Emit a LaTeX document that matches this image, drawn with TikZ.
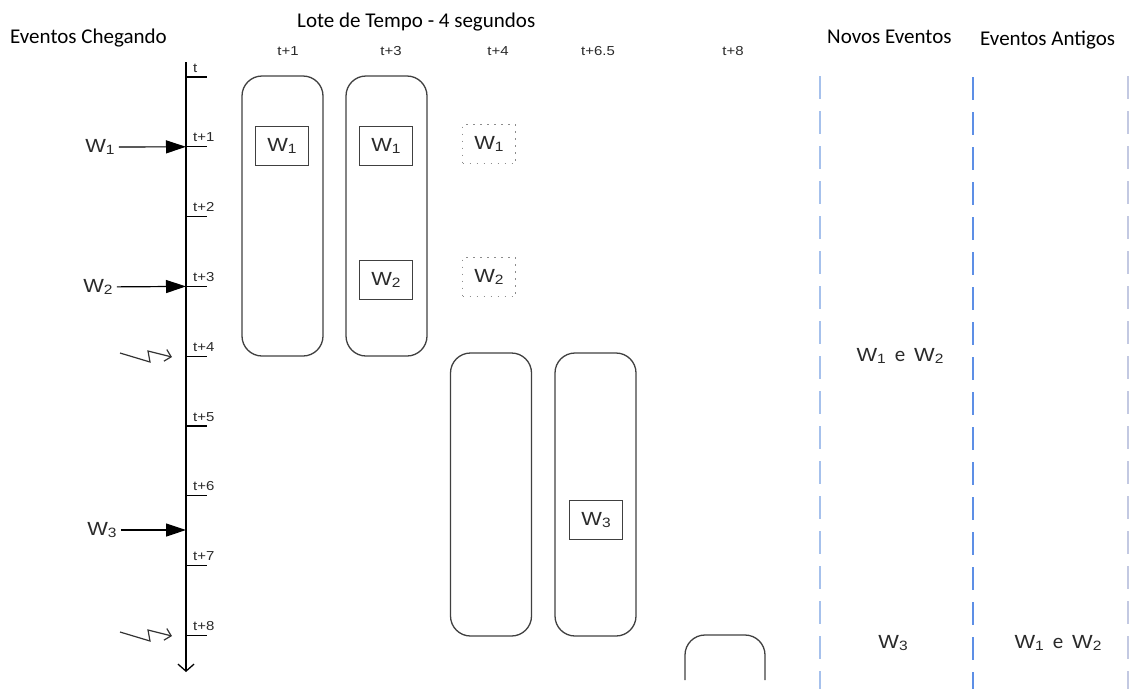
\documentclass[tikz,border=0pt]{standalone}
\usepackage{fontspec}
\setmainfont{Carlito}
\newfontfamily\arialw[FakeStretch=1.15]{Liberation Sans}
\usetikzlibrary{arrows.meta}
\definecolor{ink}{HTML}{2A2A2A}
\definecolor{dashA}{HTML}{A6C1EC}
\definecolor{dashB}{HTML}{5D8FE6}
\definecolor{dashC}{HTML}{C3C9E2}
% W with a small index
\newcommand\Wi[1]{W\raisebox{-2pt}{\fontsize{13.5}{13.5}\selectfont #1}}
% the "e" between two events
\newcommand\ee{\hspace{9pt}{\rmfamily\fontsize{21}{21}\selectfont e}\hspace{9pt}}
\tikzset{
  hdr/.style={font=\fontsize{21}{21}\selectfont, text=black, anchor=base west, inner sep=0pt},
  tlab/.style={font=\arialw\fontsize{13}{13}\selectfont, text=ink, inner sep=0pt},
  wlab/.style={font=\arialw\fontsize{19}{19}\selectfont, text=ink, inner sep=1pt},
  batch/.style={draw=black!75, line width=1.3pt, rounded corners=20pt, minimum width=81pt},
  evt/.style={wlab, draw=black!75, line width=1.1pt, minimum width=53pt, minimum height=39pt, inner sep=0pt},
  ghost/.style={evt, draw=black!45, line width=1.3pt, dash pattern=on 1.5pt off 5.5pt},
  inarr/.style={-{Triangle[length=20pt,width=13pt]}, line width=1.2pt, shorten <=3pt},
  raio/.style={-{Straight Barb[length=6pt,width=12pt]}, line width=1.2pt, black!80},
  sep/.style={line width=#1pt, dash pattern=on 23pt off 12pt}}

\begin{document}
\begin{tikzpicture}[x=1pt, y=-1pt]
\useasboundingbox (0,0) rectangle (1130,689);

% headings
\node[hdr] (hin) at (10,43) {Eventos Chegando};
\node[hdr] (hlote) at (297,27) {Lote de Tempo - 4 segundos};
\node[hdr] (hnew) at (827,43) {Novos Eventos};
\node[hdr] (hold) at (980,45) {Eventos Antigos};

% time axis
\coordinate (top) at (186,62);
\coordinate (bot) at (186,672);
\draw[line width=1.3pt, -{Straight Barb[length=7pt,width=16pt]}] (top) -- (bot);
\foreach \k/\lab in {0/t,1/t+1,2/t+2,3/t+3,4/t+4,5/t+5,6/t+6,7/t+7,8/t+8} {
  \coordinate (tk\k) at (186,77+69.8*\k);
  \draw[line width=1.2pt] (tk\k) -- ++(21,0);
  \path (tk\k) ++(7,-5) node[tlab, anchor=base west] {\lab};
}
\coordinate (in3) at (186,530);

% incoming events
\node[wlab] (w1) at (100,147) {\Wi1};
\node[wlab] (w2) at (98,287) {\Wi2};
\node[wlab] (w3) at (102,530) {\Wi3};
\draw[inarr] (w1) -- (tk1);
\draw[inarr] (w2) -- (tk3);
\draw[inarr] (w3) -- (in3);

% batch triggers
\foreach \y in {356,635}
  \draw[raio] (120,\y-3) -- (150,\y+6) -- (148,\y-5) -- (172,\y+1);

% window positions
\foreach \x/\lab in {288/t+1,391/t+3,498/t+4,598/t+6.5,733/t+8}
  \node[tlab, anchor=base] at (\x,55) {\lab};

% batches
\node[batch, minimum height=280pt] (b1) at (282.5,216) {};
\node[batch, minimum height=280pt] (b2) at (386.5,216) {};
\node[batch, minimum height=283pt] (b3) at (491,494.5) {};
\node[batch, minimum height=283pt] (b4) at (595.5,494.5) {};
\draw[draw=black!75, line width=1.3pt, rounded corners=20pt] (685,680) -- (685,635) -- (765,635) -- (765,680);

% events inside the batches
\node[evt] (e11) at (282,146) {\Wi1};
\node[evt] (e21) at (386,146) {\Wi1};
\node[evt] (e22) at (386,280) {\Wi2};
\node[ghost] (g1) at (489,144) {\Wi1};
\node[ghost] (g2) at (489,277) {\Wi2};
\node[evt] (e43) at (596,520) {\Wi3};

% new / old columns
\draw[sep=2.4, dashA] (820,76) -- (820,689);
\draw[sep=1.6, dashB] (973,77) -- (973,689);
\draw[sep=1.2, dashC] (1128,76) -- (1128,689);
\node[wlab] (nv1) at (900,356) {\Wi1\ee\Wi2};
\node[wlab] (nv2) at (893,643) {\Wi3};
\node[wlab] (an2) at (1058,643) {\Wi1\ee\Wi2};
\end{tikzpicture}
\end{document}
